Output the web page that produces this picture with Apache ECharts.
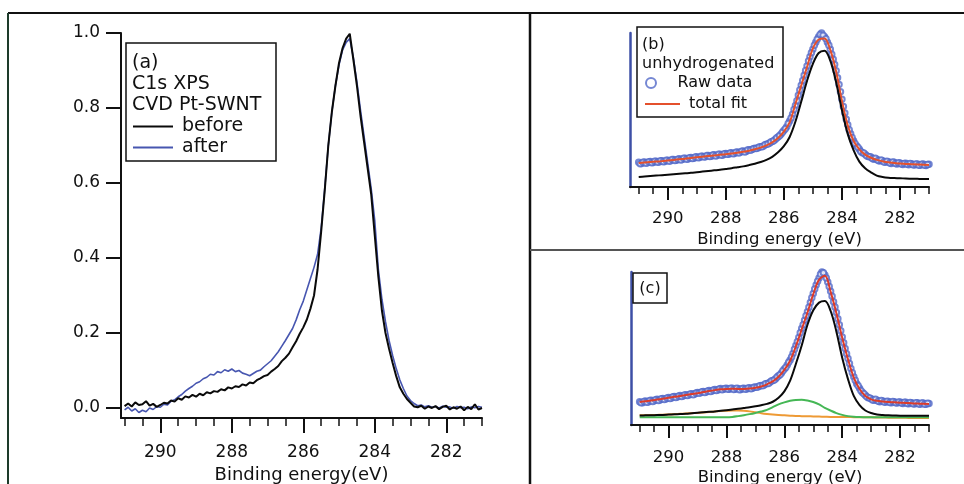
<!DOCTYPE html>
<html>
<head>
<meta charset="utf-8">
<script src="https://cdn.jsdelivr.net/npm/echarts@6/dist/echarts.min.js"></script>
<style>
  html, body { margin: 0; padding: 0; background: #ffffff; }
  #chart { width: 964px; height: 484px; }
</style>
</head>
<body>
<div id="chart"></div>
<script>
// ---- sampling grids (binding energy, eV) ----
const E_FINE = Array.from({ length: 101 }, (_, i) => +(291 - i * 0.1).toFixed(1));   // raw spectra
const E_MID = Array.from({ length: 100 }, (_, i) => +(290.95 - i * 0.1).toFixed(2)); // interleaved raw points
const E_FIT = Array.from({ length: 51 }, (_, i) => +(291 - i * 0.2).toFixed(1));     // fitted curves

// ---- tick labels ----
const X_LABELS = [282, 284, 286, 288, 290];
const X_MINOR = Array.from({ length: 21 }, (_, i) => 281 + i * 0.5);
const Y_LABELS_A = [0, 0.2, 0.4, 0.6, 0.8, 1.0];

// ---- panel (a): C1s XPS, CVD Pt-SWNT ----
const A_BEFORE = [
  0.005, 0.012, 0.004, 0.015, 0.008, 0.010, 0.018, 0.006, 0.011, 0.003,
  0.008, 0.014, 0.012, 0.020, 0.017, 0.026, 0.022, 0.031, 0.028, 0.035,
  0.030, 0.038, 0.034, 0.042, 0.039, 0.045, 0.043, 0.050, 0.047, 0.055,
  0.052, 0.058, 0.056, 0.063, 0.060, 0.068, 0.066, 0.074, 0.079, 0.085,
  0.088, 0.097, 0.104, 0.112, 0.125, 0.134, 0.145, 0.162, 0.178, 0.198,
  0.215, 0.236, 0.265, 0.300, 0.370, 0.470, 0.580, 0.700, 0.790, 0.860,
  0.920, 0.960, 0.985, 0.998, 0.930, 0.860, 0.780, 0.710, 0.640, 0.570,
  0.460, 0.350, 0.260, 0.200, 0.158, 0.120, 0.085, 0.055, 0.038, 0.024,
  0.014, 0.004, 0.002, 0.006, -0.002, 0.004, 0.000, 0.005, -0.003, 0.003,
  0.006, -0.004, 0.002, -0.002, 0.004, -0.006, 0.003, -0.003, 0.010, -0.004,
  0.000
];
const A_AFTER = [
  -0.005, 0.002, -0.008, -0.002, -0.012, -0.006, -0.010, 0.000, -0.004, 0.004,
  0.002, 0.010, 0.008, 0.018, 0.022, 0.030, 0.036, 0.045, 0.052, 0.058,
  0.066, 0.070, 0.078, 0.082, 0.090, 0.088, 0.097, 0.094, 0.102, 0.098,
  0.104, 0.097, 0.100, 0.093, 0.090, 0.086, 0.092, 0.098, 0.101, 0.110,
  0.118, 0.126, 0.138, 0.150, 0.165, 0.180, 0.196, 0.212, 0.235, 0.262,
  0.285, 0.315, 0.345, 0.375, 0.410, 0.480, 0.585, 0.700, 0.790, 0.860,
  0.915, 0.955, 0.975, 0.985, 0.935, 0.870, 0.795, 0.725, 0.655, 0.585,
  0.500, 0.370, 0.290, 0.230, 0.180, 0.140, 0.105, 0.075, 0.052, 0.032,
  0.020, 0.012, 0.006, 0.008, 0.003, 0.006, 0.002, 0.004, 0.000, 0.005,
  0.002, 0.003, -0.001, 0.004, 0.001, 0.002, -0.002, 0.003, 0.001, 0.004,
  0.002
];

// ---- panel (b): unhydrogenated ----
const B_RAW = [
  0.160, 0.152, 0.163, 0.157, 0.166, 0.159, 0.168, 0.163, 0.171, 0.165,
  0.174, 0.170, 0.178, 0.173, 0.183, 0.179, 0.187, 0.182, 0.192, 0.187,
  0.196, 0.191, 0.200, 0.196, 0.205, 0.199, 0.209, 0.204, 0.213, 0.208,
  0.218, 0.213, 0.222, 0.218, 0.228, 0.226, 0.234, 0.231, 0.242, 0.243,
  0.251, 0.254, 0.262, 0.266, 0.277, 0.284, 0.296, 0.308, 0.325, 0.343,
  0.367, 0.392, 0.428, 0.472, 0.530, 0.595, 0.660, 0.725, 0.785, 0.845,
  0.895, 0.940, 0.975, 1.000, 0.975, 0.940, 0.895, 0.830, 0.755, 0.665,
  0.570, 0.480, 0.405, 0.345, 0.300, 0.268, 0.245, 0.222, 0.213, 0.198,
  0.194, 0.181, 0.180, 0.169, 0.171, 0.160, 0.164, 0.153, 0.160, 0.149,
  0.156, 0.146, 0.154, 0.145, 0.151, 0.143, 0.150, 0.141, 0.149, 0.140,
  0.147
];
const B_RAW_MID = [
  0.151, 0.161, 0.155, 0.164, 0.158, 0.167, 0.161, 0.170, 0.164, 0.173,
  0.168, 0.178, 0.172, 0.181, 0.176, 0.186, 0.180, 0.190, 0.185, 0.194,
  0.190, 0.199, 0.194, 0.204, 0.198, 0.207, 0.202, 0.212, 0.206, 0.216,
  0.212, 0.221, 0.216, 0.226, 0.221, 0.232, 0.228, 0.240, 0.238, 0.249,
  0.250, 0.260, 0.262, 0.274, 0.279, 0.292, 0.300, 0.318, 0.332, 0.356,
  0.378, 0.412, 0.448, 0.503, 0.560, 0.630, 0.692, 0.757, 0.818, 0.872,
  0.920, 0.960, 0.990, 0.985, 0.962, 0.920, 0.862, 0.795, 0.710, 0.618,
  0.523, 0.440, 0.372, 0.322, 0.282, 0.258, 0.230, 0.220, 0.203, 0.197,
  0.185, 0.186, 0.172, 0.175, 0.163, 0.167, 0.156, 0.162, 0.152, 0.158,
  0.149, 0.153, 0.147, 0.152, 0.144, 0.149, 0.142, 0.148, 0.141, 0.146
];
const B_FIT = [
  0.156, 0.159, 0.162, 0.165, 0.168,
  0.172, 0.176, 0.180, 0.184, 0.189,
  0.193, 0.197, 0.201, 0.205, 0.209,
  0.213, 0.218, 0.223, 0.229, 0.236,
  0.245, 0.256, 0.270, 0.290, 0.318,
  0.360, 0.420, 0.540, 0.660, 0.780,
  0.900, 0.958, 0.965, 0.890, 0.750,
  0.560, 0.400, 0.300, 0.245, 0.210,
  0.190, 0.176, 0.167, 0.160, 0.156,
  0.152, 0.150, 0.148, 0.146, 0.145,
  0.143
];
const B_PEAK = [
  0.065, 0.068, 0.071, 0.074, 0.077,
  0.080, 0.083, 0.086, 0.089, 0.092,
  0.096, 0.100, 0.104, 0.108, 0.112,
  0.117, 0.122, 0.128, 0.134, 0.142,
  0.151, 0.162, 0.176, 0.196, 0.225,
  0.265, 0.325, 0.425, 0.555, 0.690,
  0.800, 0.870, 0.885, 0.820, 0.680,
  0.500, 0.345, 0.240, 0.165, 0.122,
  0.095, 0.074, 0.065, 0.060, 0.058,
  0.057, 0.055, 0.054, 0.053, 0.052,
  0.052
];

// ---- panel (c) ----
const C_RAW = [
  0.152, 0.146, 0.157, 0.151, 0.162, 0.158, 0.168, 0.163, 0.174, 0.170,
  0.180, 0.176, 0.186, 0.183, 0.192, 0.190, 0.198, 0.196, 0.205, 0.202,
  0.212, 0.210, 0.219, 0.216, 0.226, 0.223, 0.232, 0.228, 0.238, 0.233,
  0.240, 0.234, 0.240, 0.233, 0.239, 0.232, 0.240, 0.236, 0.243, 0.241,
  0.249, 0.250, 0.258, 0.262, 0.272, 0.279, 0.291, 0.302, 0.322, 0.340,
  0.366, 0.392, 0.425, 0.467, 0.520, 0.572, 0.630, 0.685, 0.740, 0.800,
  0.860, 0.915, 0.960, 1.000, 0.980, 0.935, 0.875, 0.805, 0.735, 0.655,
  0.575, 0.500, 0.435, 0.370, 0.315, 0.270, 0.240, 0.212, 0.195, 0.178,
  0.172, 0.161, 0.162, 0.152, 0.157, 0.148, 0.154, 0.145, 0.152, 0.143,
  0.150, 0.141, 0.148, 0.139, 0.146, 0.137, 0.145, 0.136, 0.143, 0.135,
  0.141
];
const C_RAW_MID = [
  0.145, 0.154, 0.149, 0.160, 0.154, 0.165, 0.160, 0.171, 0.166, 0.177,
  0.173, 0.184, 0.179, 0.190, 0.186, 0.196, 0.192, 0.203, 0.198, 0.209,
  0.207, 0.217, 0.213, 0.223, 0.219, 0.229, 0.225, 0.235, 0.231, 0.239,
  0.233, 0.241, 0.232, 0.240, 0.231, 0.238, 0.234, 0.242, 0.237, 0.247,
  0.246, 0.256, 0.257, 0.269, 0.272, 0.287, 0.294, 0.314, 0.328, 0.354,
  0.376, 0.410, 0.444, 0.495, 0.544, 0.603, 0.656, 0.714, 0.770, 0.832,
  0.889, 0.940, 0.985, 0.995, 0.960, 0.905, 0.842, 0.772, 0.695, 0.616,
  0.538, 0.466, 0.402, 0.342, 0.292, 0.256, 0.224, 0.205, 0.185, 0.177,
  0.164, 0.168, 0.155, 0.160, 0.150, 0.156, 0.147, 0.153, 0.145, 0.151,
  0.143, 0.149, 0.141, 0.147, 0.139, 0.145, 0.138, 0.144, 0.136, 0.142
];
const C_FIT = [
  0.150, 0.155, 0.160, 0.166, 0.172,
  0.178, 0.184, 0.190, 0.196, 0.202,
  0.208, 0.215, 0.222, 0.228, 0.233,
  0.236, 0.237, 0.236, 0.236, 0.238,
  0.243, 0.252, 0.266, 0.285, 0.315,
  0.360, 0.420, 0.515, 0.625, 0.735,
  0.855, 0.950, 0.975, 0.870, 0.730,
  0.570, 0.430, 0.310, 0.235, 0.190,
  0.168, 0.158, 0.153, 0.150, 0.148,
  0.146, 0.144, 0.142, 0.140, 0.139,
  0.137
];
const C_PEAK = [
  0.062, 0.063, 0.064, 0.065, 0.066,
  0.068, 0.070, 0.072, 0.074, 0.077,
  0.080, 0.083, 0.086, 0.089, 0.093,
  0.097, 0.101, 0.106, 0.111, 0.116,
  0.122, 0.129, 0.138, 0.152, 0.178,
  0.220, 0.290, 0.400, 0.520, 0.655,
  0.750, 0.800, 0.810, 0.745, 0.610,
  0.440, 0.300, 0.190, 0.130, 0.095,
  0.078, 0.069, 0.065, 0.063, 0.062,
  0.061, 0.061, 0.060, 0.060, 0.060,
  0.060
];
const C_GREEN = [
  0.050, 0.050, 0.050, 0.050, 0.050,
  0.050, 0.050, 0.050, 0.050, 0.050,
  0.050, 0.050, 0.050, 0.050, 0.051,
  0.051, 0.053, 0.058, 0.064, 0.071,
  0.079, 0.088, 0.099, 0.117, 0.135,
  0.148, 0.158, 0.164, 0.165, 0.160,
  0.150, 0.135, 0.112, 0.094, 0.078,
  0.066, 0.058, 0.054, 0.052, 0.051,
  0.050, 0.050, 0.050, 0.050, 0.050,
  0.050, 0.050, 0.050, 0.050, 0.050,
  0.050
];
const C_ORANGE = [
  0.063, 0.064, 0.065, 0.066, 0.067,
  0.069, 0.071, 0.073, 0.075, 0.077,
  0.079, 0.082, 0.085, 0.088, 0.091,
  0.093, 0.095, 0.095, 0.093, 0.089,
  0.083, 0.077, 0.072, 0.068, 0.065,
  0.063, 0.061, 0.059, 0.058, 0.057,
  0.056, 0.055, 0.054, 0.053, 0.053,
  0.052, 0.052, 0.051, 0.051, 0.050,
  0.050, 0.049, 0.049, 0.048, 0.048,
  0.047, 0.047, 0.046, 0.046, 0.045,
  0.045
];

// ---- build ----
const FONT = 'DejaVu Sans';
const pair = (xs, ys) => xs.map((x, i) => [x, ys[i]]);

function mainX(grid, maxE, tickLen, fontSize, labelMargin, nameGap, nameSize, name) {
  return {
    type: 'value', gridIndex: grid, min: 281, max: maxE, inverse: true, position: 'bottom',
    axisLine: { onZero: false, lineStyle: { color: '#111', width: 2 } },
    axisTick: { customValues: X_LABELS, length: tickLen, lineStyle: { color: '#111', width: 2 } },
    axisLabel: { customValues: X_LABELS, color: '#111', fontFamily: FONT, fontSize: fontSize, margin: labelMargin },
    splitLine: { show: false },
    name: name, nameLocation: 'middle', nameGap: nameGap,
    nameTextStyle: { color: '#111', fontFamily: FONT, fontSize: nameSize }
  };
}
function minorX(grid, maxE, tickLen) {
  return {
    type: 'value', gridIndex: grid, min: 281, max: maxE, inverse: true, position: 'bottom',
    axisLine: { show: false, onZero: false },
    axisTick: { customValues: X_MINOR, length: tickLen, lineStyle: { color: '#111', width: 1.5 } },
    axisLabel: { show: false },
    splitLine: { show: false }
  };
}
function bareY(grid) {
  return {
    type: 'value', gridIndex: grid, min: 0, max: 1,
    axisLine: { show: true, onZero: false, lineStyle: { color: '#3d4fa6', width: 2.5 } },
    axisTick: { show: false }, axisLabel: { show: false }, splitLine: { show: false }
  };
}
function lineS(name, xi, yi, xs, ys, color, width, smooth) {
  return {
    name: name, type: 'line', xAxisIndex: xi, yAxisIndex: yi,
    data: pair(xs, ys), showSymbol: false, symbol: 'none', smooth: smooth ? 0.35 : false,
    lineStyle: { color: color, width: width }, itemStyle: { color: color }
  };
}
function rawS(name, xi, yi, ys, ysMid) {
  return {
    name: name, type: 'scatter', xAxisIndex: xi, yAxisIndex: yi,
    data: pair(E_FINE, ys).concat(pair(E_MID, ysMid)),
    symbol: 'emptyCircle', symbolSize: 5.5,
    itemStyle: { color: '#5369c8', borderColor: '#5369c8', borderWidth: 1 }
  };
}

const txt = (x, y, text, size, extra) => ({
  type: 'text', x: x, y: y, z: 100,
  style: Object.assign({ text: text, fill: '#111', fontFamily: FONT, fontSize: size, verticalAlign: 'middle' }, extra || {})
});
const ln = (x1, y1, x2, y2, color, w) => ({
  type: 'line', z: 100, shape: { x1: x1, y1: y1, x2: x2, y2: y2 }, style: { stroke: color, lineWidth: w }
});
const box = (x, y, w, h) => ({
  type: 'rect', z: 100, shape: { x: x, y: y, width: w, height: h }, style: { fill: 'transparent', stroke: '#111', lineWidth: 1.5 }
});
const legendText = size => ({ color: '#111', fontFamily: FONT, fontSize: size, padding: [0, 0, 0, 4] });

const option = {
  animation: false,
  backgroundColor: '#ffffff',
  grid: [
    { left: 121, top: 33, width: 361, height: 385, outerBoundsMode: 'none', containLabel: false },
    { left: 630, top: 33, width: 299, height: 154, outerBoundsMode: 'none', containLabel: false },
    { left: 631, top: 272, width: 298, height: 153, outerBoundsMode: 'none', containLabel: false }
  ],
  xAxis: [
    mainX(0, 291.1, 15, 17, 26, 47, 18, 'Binding energy(eV)'),
    minorX(0, 291.1, 8),
    mainX(1, 291.3, 13, 16.5, 23, 44, 16.5, 'Binding energy (eV)'),
    minorX(1, 291.3, 7),
    mainX(2, 291.3, 13, 16.5, 24, 44, 16.5, 'Binding energy (eV)'),
    minorX(2, 291.3, 7)
  ],
  yAxis: [
    {
      type: 'value', gridIndex: 0, min: -0.0267, max: 1,
      axisLine: { show: true, onZero: false, lineStyle: { color: '#111', width: 2 } },
      axisTick: { customValues: Y_LABELS_A, length: 15, lineStyle: { color: '#111', width: 2 } },
      axisLabel: { customValues: Y_LABELS_A, formatter: v => v.toFixed(1), color: '#111', fontFamily: FONT, fontSize: 17, margin: 21 },
      splitLine: { show: false }
    },
    bareY(1),
    bareY(2)
  ],
  legend: [
    {
      data: [{ name: 'before', icon: 'rect' }, { name: 'after', icon: 'rect' }],
      orient: 'vertical', left: 133, top: 117, padding: 0,
      itemWidth: 40, itemHeight: 2, itemGap: 2, selectedMode: false,
      textStyle: legendText(19)
    },
    {
      data: ['Raw data'], orient: 'vertical', left: 645, top: 75, padding: 0,
      itemWidth: 35, itemHeight: 10, selectedMode: false,
      textStyle: legendText(16)
    },
    {
      data: [{ name: 'total fit', icon: 'rect' }], orient: 'vertical', left: 645, top: 96, padding: 0,
      itemWidth: 35, itemHeight: 2, selectedMode: false,
      textStyle: legendText(16)
    }
  ],
  series: [
    lineS('after', 0, 0, E_FINE, A_AFTER, '#4756b0', 1.6, false),
    lineS('before', 0, 0, E_FINE, A_BEFORE, '#0a0a0a', 2, false),

    rawS('Raw data', 2, 1, B_RAW, B_RAW_MID),
    lineS('total fit', 2, 1, E_FIT, B_FIT, '#e4502c', 2, true),
    lineS('sp2 component (b)', 2, 1, E_FIT, B_PEAK, '#0a0a0a', 2, true),

    rawS('Raw data (c)', 4, 2, C_RAW, C_RAW_MID),
    lineS('component 3 (c)', 4, 2, E_FIT, C_ORANGE, '#ee9a35', 2, true),
    lineS('component 2 (c)', 4, 2, E_FIT, C_GREEN, '#45b755', 2, true),
    lineS('sp2 component (c)', 4, 2, E_FIT, C_PEAK, '#0a0a0a', 2, true),
    lineS('total fit (c)', 4, 2, E_FIT, C_FIT, '#dc3b2a', 2, true)
  ],
  graphic: {
    elements: [
      ln(8, 13, 964, 13, '#111', 2),
      ln(8, 13, 8, 484, '#1d3b2a', 2),
      ln(530, 13, 530, 484, '#111', 2.5),
      ln(530, 250, 964, 250, '#555', 2),

      box(126, 43, 150, 118),
      txt(132, 63, '(a)', 19),
      txt(132, 84, 'C1s XPS', 19),
      txt(132, 105, 'CVD Pt-SWNT', 19),

      box(637, 27, 146, 90),
      txt(642, 45, '(b)', 16),
      txt(642, 64, 'unhydrogenated', 16),

      box(633, 273, 34, 30),
      txt(650, 289, '(c)', 16, { align: 'center' })
    ]
  }
};

const chart = echarts.init(document.getElementById('chart'), null, { renderer: 'canvas' });
chart.setOption(option);
</script>
</body>
</html>
